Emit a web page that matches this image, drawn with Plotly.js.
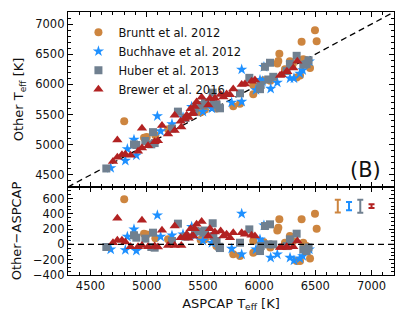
<!DOCTYPE html>
<html>
<head>
<meta charset="utf-8">
<script src="https://cdn.plot.ly/plotly-3.0.1.min.js"></script>
<style>html,body{margin:0;padding:0;background:#fff;}#plot{width:407px;height:326px;}</style>
</head>
<body>
<div id="plot"></div>
<script>
// ---- data (ASPCAP Teff vs other-literature Teff) ----
const surveyNames = ["Bruntt et al. 2012", "Buchhave et al. 2012", "Huber et al. 2013", "Brewer et al. 2016"];

const brunttAspcap = [4800, 4976, 5000, 5077, 5190, 5518, 5480, 5620, 5770, 5830, 5948, 5948, 6040, 6100, 6162, 6171, 6180, 6230, 6274, 6300, 6334, 6364, 6378, 6393, 6420, 6453, 6497, 6512];
const brunttOther  = [5390, 5116, 5130, 5157, 5256, 5584, 5540, 5600, 5640, 5678, 5839, 5992, 6070, 6060, 6345, 6389, 6507, 6250, 6383, 6340, 6116, 6146, 6705, 6415, 6400, 6270, 6899, 6717];

const buchAspcap = [4680, 4810, 4828, 4887, 4908, 5095, 5124, 5225, 5323, 5400, 5429, 5500, 5580, 5756, 5845, 5845, 5972, 6008, 6031, 6043, 6103, 6162, 6275, 6310, 6363, 6388, 6447];
const buchOther  = [4615, 4736, 4929, 5084, 4825, 5475, 5225, 5343, 5455, 5630, 5547, 5550, 5600, 5700, 6247, 5715, 5907, 6074, 6053, 6291, 5929, 6032, 6101, 6101, 6180, 6236, 6382];

const huberAspcap = [4641, 4887, 4908, 4988, 5041, 5056, 5071, 5225, 5278, 5344, 5430, 5489, 5504, 5519, 5587, 5593, 5622, 5646, 5652, 5830, 5913, 6008, 6014, 6052, 6082, 6097, 6126, 6245, 6274, 6334, 6393, 6423, 6440];
const huberOther  = [4607, 5006, 4996, 5063, 5007, 5209, 5028, 5269, 5549, 5445, 5604, 5659, 5657, 5700, 5863, 5702, 5666, 5615, 5604, 5852, 6109, 5921, 5992, 6292, 6082, 6359, 6126, 6223, 6340, 6474, 6328, 6336, 6400];

const brewerAspcap = [4700, 4739, 4739, 4780, 4810, 4857, 4923, 4958, 4958, 5012, 5071, 5100, 5136, 5190, 5249, 5249, 5302, 5308, 5338, 5356, 5373, 5391, 5403, 5415, 5427, 5444, 5489, 5548, 5563, 5607, 5658, 5682, 5711, 5741, 5770, 5845, 5874, 5933, 5963, 6186, 6200, 6245, 6251, 6304, 6340];
const brewerOther  = [4722, 5079, 4792, 4833, 4841, 4827, 4893, 5273, 4945, 4982, 5049, 5065, 5320, 5177, 5489, 5236, 5390, 5295, 5426, 5488, 5452, 5596, 5513, 5524, 5632, 5707, 5789, 5657, 5768, 5769, 5833, 5791, 5843, 5829, 5923, 5998, 6006, 6051, 6072, 6146, 6160, 6215, 6211, 6274, 6384];

// typical uncertainties (shown as error bars in the lower panel)
const errX = [6700, 6800, 6900, 7000];
const errY = [500, 500, 500, 500];
const errSize = [84, 55, 85, 25];

const teffRange = [4300, 7200];
const diffRange = [-400, 750];

// ---- styling ----
const colors = ["#CD853F", "#1E90FF", "#708090", "#B22222"];
const symbols = ["circle", "star", "square", "triangle-up"];
const sizes = [8, 8.5, 8, 9];
const FONT = "DejaVu Sans, sans-serif";

const sets = [
  [brunttAspcap, brunttOther],
  [buchAspcap, buchOther],
  [huberAspcap, huberOther],
  [brewerAspcap, brewerOther]
];

const traces = [];
// one-to-one line
traces.push({x: teffRange, y: teffRange, xaxis: 'x', yaxis: 'y', mode: 'lines',
  line: {color: 'black', width: 1.3, dash: '6px,4px'}, showlegend: false, hoverinfo: 'skip'});

sets.forEach((s, i) => {
  traces.push({
    x: s[0], y: s[1], xaxis: 'x', yaxis: 'y', mode: 'markers', type: 'scatter',
    name: surveyNames[i],
    marker: {color: colors[i], symbol: symbols[i], size: sizes[i], line: {width: 0}},
    showlegend: true
  });
});
sets.forEach((s, i) => {
  traces.push({
    x: s[0], y: s[1].map((v, k) => v - s[0][k]), xaxis: 'x2', yaxis: 'y2', mode: 'markers', type: 'scatter',
    name: surveyNames[i],
    marker: {color: colors[i], symbol: symbols[i], size: sizes[i], line: {width: 0}},
    showlegend: false
  });
});
errX.forEach((x, i) => {
  traces.push({
    x: [x], y: [errY[i]], xaxis: 'x2', yaxis: 'y2', mode: 'markers',
    marker: {size: 1, color: 'rgba(0,0,0,0)'},
    error_y: {type: 'data', array: [errSize[i]], visible: true, color: colors[i], thickness: 2, width: 3},
    showlegend: false, hoverinfo: 'skip'
  });
});

const split = 88 / 263;
const commonAxis = {
  showline: true, linecolor: 'black', linewidth: 1.2, mirror: 'ticks',
  ticks: 'inside', ticklen: 5, tickwidth: 1, tickcolor: 'black',
  showgrid: false, zeroline: false,
  tickfont: {family: FONT, size: 11.5, color: '#111'}
};

const layout = {
  width: 407, height: 326,
  margin: {l: 68, r: 13, t: 12, b: 51, pad: 0},
  paper_bgcolor: 'white', plot_bgcolor: 'white',
  font: {family: FONT, color: '#111'},
  showlegend: true,
  legend: {x: 0.032, y: 0.978, xanchor: 'left', yanchor: 'top', bgcolor: 'rgba(0,0,0,0)',
           font: {family: FONT, size: 11.5, color: '#111'}, tracegroupgap: 0, itemwidth: 30},
  xaxis: Object.assign({}, commonAxis, {range: teffRange, anchor: 'y', dtick: 500, showticklabels: false,
           minor: {ticks: 'inside', dtick: 100, ticklen: 3, tickcolor: 'black'}}),
  yaxis: Object.assign({}, commonAxis, {range: teffRange, domain: [split, 1], dtick: 500, anchor: 'x',
           minor: {ticks: 'inside', dtick: 100, ticklen: 3, tickcolor: 'black'},
           title: {text: 'Other T<sub>eff</sub> [K]', font: {family: FONT, size: 13, color: '#111'}, standoff: 8}}),
  xaxis2: Object.assign({}, commonAxis, {range: teffRange, anchor: 'y2', dtick: 500,
           minor: {ticks: 'inside', dtick: 100, ticklen: 3, tickcolor: 'black'},
           title: {text: 'ASPCAP T<sub>eff</sub> [K]', font: {family: FONT, size: 13, color: '#111'}, standoff: 6}}),
  yaxis2: Object.assign({}, commonAxis, {range: diffRange, domain: [0, split], dtick: 200, anchor: 'x2',
           minor: {ticks: 'inside', dtick: 50, ticklen: 3, tickcolor: 'black'},
           title: {text: 'Other\u2212ASPCAP', font: {family: FONT, size: 13, color: '#111'}, standoff: 8}}),
  shapes: [{type: 'line', xref: 'x2 domain', yref: 'y2', x0: 0, x1: 1, y0: 0, y1: 0,
            line: {color: 'black', width: 1.3, dash: '6px,4px'}, layer: 'above'}],
  annotations: [{text: '(B)', xref: 'x domain', yref: 'y domain', x: 0.965, y: 0.1, xanchor: 'right', yanchor: 'middle',
                 showarrow: false, font: {family: FONT, size: 21, color: '#111'}}]
};

Plotly.newPlot('plot', traces, layout, {staticPlot: true, displayModeBar: false});
</script>
</body>
</html>
